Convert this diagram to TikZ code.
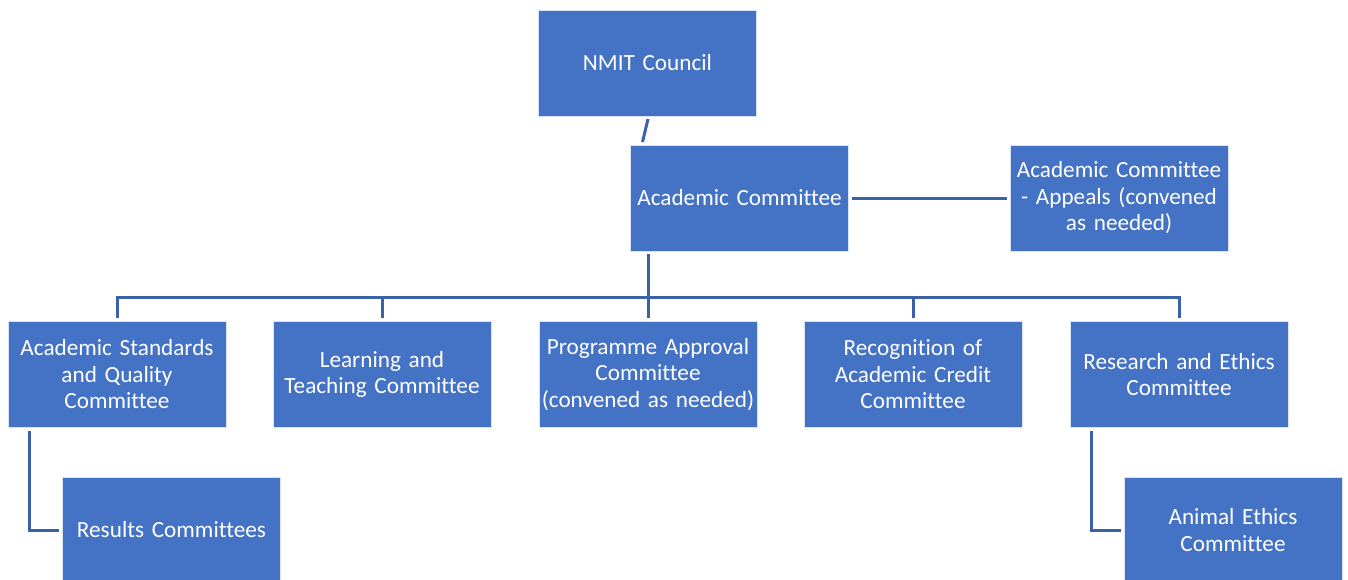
\documentclass[tikz,border=0pt]{standalone}
\usepackage{fontspec}
\setmainfont[Ligatures=NoCommon]{Carlito}
\definecolor{boxfill}{HTML}{4472C4}
\definecolor{linecol}{HTML}{3A62A8}
\begin{document}
\begin{tikzpicture}[x=1pt,y=-1pt,
  box/.style={rectangle, fill=boxfill, draw=white!80!boxfill, line width=0.8pt,
    minimum width=216pt, minimum height=106pt, inner sep=2pt, text width=214pt,
    align=center, text=white, font=\fontsize{23.2}{26.5}\selectfont},
  conn/.style={draw=linecol, line width=3pt}]
\clip (0,0) rectangle (1348,580);
\fill[white] (0,0) rectangle (1348,580);
\node[box] (nmit) at (647.5,63) {NMIT Council};
\node[box] (ac) at (739.5,198) {Academic Committee};
\node[box] (app) at (1119,198) {Academic Committee\\- Appeals (convened\\as needed)};
\node[box] (asq) at (117,374.5) {Academic Standards\\and Quality\\Committee};
\node[box] (lt) at (382,374.5) {Learning and\\Teaching Committee};
\node[box] (pa) at (648,374.5) {Programme Approval\\Committee\\(convened as needed)};
\node[box] (rac) at (913,374.5) {Recognition of\\Academic Credit\\Committee};
\node[box] (re) at (1179,374.5) {Research and Ethics\\Committee};
\node[box] (res) at (171.5,530) {Results Committees};
\node[box] (ani) at (1233,530) {Animal Ethics\\Committee};
% connectors
\coordinate (nmitend) at (648,119);
\coordinate (acend) at (642.5,142);
\draw[conn] (acend) -- (nmitend);
\draw[conn] ([xshift=3pt]ac.east) -- ([xshift=-3pt]app.west);
\coordinate (bus) at (648,297);
\draw[conn] (648,254) -- (bus);
\draw[conn] (asq.north |- 0,318) -- (asq.north |- bus) -- (re.north |- bus) -- (re.north |- 0,318);
\foreach \n in {lt,pa,rac}{\draw[conn] (\n.north |- bus) -- (\n.north |- 0,318);}
\draw[conn] (29,431) |- ([xshift=-3pt]res.west);
\draw[conn] (1091,431) |- ([xshift=-3pt]ani.west);
\end{tikzpicture}
\end{document}
